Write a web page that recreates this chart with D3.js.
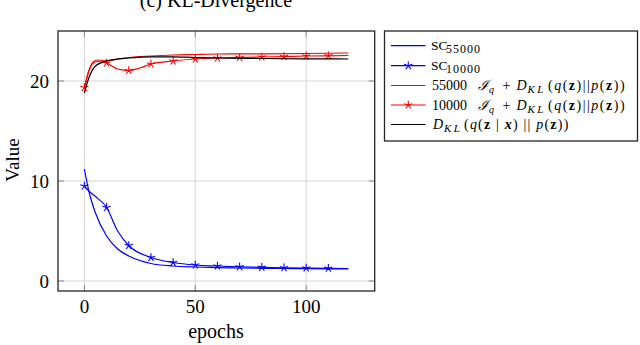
<!DOCTYPE html>
<html>
<head>
<meta charset="utf-8">
<script src="https://cdn.jsdelivr.net/npm/d3@7"></script>
<style>
  body { margin: 0; background: #fff; }
  svg { font-family: "Liberation Serif", "DejaVu Serif", serif; }
</style>
</head>
<body>
<svg id="chart"></svg>
<script>
// values
const xTicks = [0, 50, 100];
const yTicks = [0, 10, 20];

const sc55000Epochs = [0, 2, 5, 10, 15, 20, 30, 40, 50, 60, 70, 80, 90, 100, 110, 119];
const sc55000Values = [11.2, 9.0, 6.8, 4.5, 3.2, 2.5, 1.75, 1.5, 1.4, 1.33, 1.3, 1.27, 1.25, 1.23, 1.22, 1.2];

const sc10000Epochs = [0, 2, 5, 10, 15, 20, 30, 40, 50, 60, 70, 80, 90, 100, 110, 119];
const sc10000Values = [9.5, 9.0, 8.45, 7.35, 5.0, 3.55, 2.35, 1.85, 1.6, 1.5, 1.42, 1.37, 1.32, 1.3, 1.27, 1.25];

const kl55000Epochs = [0, 2, 4, 6, 10, 15, 20, 30, 40, 50, 60, 80, 100, 119];
const kl55000Values = [19.3, 21.0, 21.9, 22.1, 22.0, 22.2, 22.35, 22.5, 22.6, 22.65, 22.7, 22.72, 22.75, 22.8];

const kl10000Epochs = [0, 2, 4, 6, 10, 15, 20, 25, 30, 40, 50, 60, 70, 80, 90, 100, 110, 119];
const kl10000Values = [19.35, 21.0, 21.8, 21.95, 21.8, 21.2, 21.05, 21.3, 21.7, 22.0, 22.2, 22.3, 22.35, 22.4, 22.45, 22.5, 22.52, 22.55];

const klPostEpochs = [0, 2, 5, 10, 20, 30, 40, 50, 60, 80, 100, 119];
const klPostValues = [18.8, 20.3, 21.5, 22.0, 22.3, 22.42, 22.42, 22.35, 22.3, 22.25, 22.22, 22.2];

const markEpochs = [0, 10, 20, 30, 40, 50, 60, 70, 80, 90, 100, 110];

const width = 640, height = 345;
const svg = d3.select("#chart").attr("width", width).attr("height", height);

const plot = { left: 58, right: 374.7, top: 31, bottom: 291 };
const x = d3.scaleLinear().domain([-11.9, 130.9]).range([plot.left, plot.right]);
const y = d3.scaleLinear().domain([-1.0, 25.0]).range([plot.bottom, plot.top]);

const zip = (xs, ys) => xs.map((e, i) => ({ e: e, v: ys[i] }));

const series = [
  { name: "sc55000", data: zip(sc55000Epochs, sc55000Values), color: "#0000ff", mark: false },
  { name: "sc10000", data: zip(sc10000Epochs, sc10000Values), color: "#0000ff", mark: true },
  { name: "kl55000", data: zip(kl55000Epochs, kl55000Values), color: "#ff0000", mark: false },
  { name: "kl10000", data: zip(kl10000Epochs, kl10000Values), color: "#ff0000", mark: true },
  { name: "klPost", data: zip(klPostEpochs, klPostValues), color: "#000000", mark: false }
];

// title (top half is cut off in the reference too)
svg.append("text")
  .attr("x", 216).attr("y", 7)
  .attr("text-anchor", "middle")
  .style("font-size", "20px")
  .text("(c) KL-Divergence");

// grid
const grid = svg.append("g");
grid.selectAll("line.gx").data(xTicks).join("line")
  .attr("x1", d => x(d)).attr("x2", d => x(d))
  .attr("y1", plot.top).attr("y2", plot.bottom)
  .attr("stroke", "#d6d6d6").attr("stroke-width", 1);
grid.selectAll("line.gy").data(yTicks).join("line")
  .attr("y1", d => y(d)).attr("y2", d => y(d))
  .attr("x1", plot.left).attr("x2", plot.right)
  .attr("stroke", "#d6d6d6").attr("stroke-width", 1);

// inner tick marks on all four sides
const tickLen = 6;
const ticks = svg.append("g").attr("stroke", "#8a8a8a").attr("stroke-width", 1);
xTicks.forEach(t => {
  ticks.append("line").attr("x1", x(t)).attr("x2", x(t)).attr("y1", plot.bottom).attr("y2", plot.bottom - tickLen);
  ticks.append("line").attr("x1", x(t)).attr("x2", x(t)).attr("y1", plot.top).attr("y2", plot.top + tickLen);
});
yTicks.forEach(t => {
  ticks.append("line").attr("y1", y(t)).attr("y2", y(t)).attr("x1", plot.left).attr("x2", plot.left + tickLen);
  ticks.append("line").attr("y1", y(t)).attr("y2", y(t)).attr("x1", plot.right).attr("x2", plot.right - tickLen);
});

svg.append("clipPath").attr("id", "clip")
  .append("rect")
  .attr("x", plot.left).attr("y", plot.top)
  .attr("width", plot.right - plot.left).attr("height", plot.bottom - plot.top);

const line = d3.line()
  .x(d => x(d.e))
  .y(d => y(d.v))
  .curve(d3.curveMonotoneX);

const lines = svg.append("g").attr("clip-path", "url(#clip)");

function starPath(r) {
  let p = "";
  for (let k = 0; k < 5; k++) {
    const a = -Math.PI / 2 + k * 2 * Math.PI / 5;
    p += "M0,0L" + (r * Math.cos(a)).toFixed(2) + "," + (r * Math.sin(a)).toFixed(2);
  }
  return p;
}

series.forEach(s => {
  lines.append("path")
    .datum(s.data)
    .attr("fill", "none")
    .attr("stroke", s.color)
    .attr("stroke-width", 1.2)
    .attr("d", line);
  if (s.mark) {
    const pts = s.data.filter(d => markEpochs.includes(d.e));
    lines.selectAll("path.mark-" + s.name).data(pts).join("path")
      .attr("class", "mark-" + s.name)
      .attr("transform", d => `translate(${x(d.e)},${y(d.v)})`)
      .attr("d", starPath(4.3))
      .attr("fill", "none")
      .attr("stroke", s.color)
      .attr("stroke-width", 1.1);
  }
});

// axis box
svg.append("rect")
  .attr("x", plot.left).attr("y", plot.top)
  .attr("width", plot.right - plot.left).attr("height", plot.bottom - plot.top)
  .attr("fill", "none").attr("stroke", "#262626").attr("stroke-width", 1.3);

// tick labels
svg.selectAll("text.xt").data(xTicks).join("text")
  .attr("class", "xt")
  .attr("x", d => x(d)).attr("y", 313)
  .attr("text-anchor", "middle")
  .style("font-size", "19px")
  .text(d => d);
svg.selectAll("text.yt").data(yTicks).join("text")
  .attr("class", "yt")
  .attr("x", 49).attr("y", d => y(d) + 6.5)
  .attr("text-anchor", "end")
  .style("font-size", "19px")
  .text(d => d);

// axis labels
svg.append("text")
  .attr("x", 216).attr("y", 338)
  .attr("text-anchor", "middle")
  .style("font-size", "20px")
  .text("epochs");
svg.append("text")
  .attr("transform", "translate(19,160) rotate(-90)")
  .attr("text-anchor", "middle")
  .style("font-size", "19px")
  .text("Value");

// legend
const legend = svg.append("g");
legend.append("rect")
  .attr("x", 384.5).attr("y", 31)
  .attr("width", 253).attr("height", 110)
  .attr("fill", "#fff").attr("stroke", "#262626").attr("stroke-width", 1.3);

const rowY = [45.7, 65.7, 85.5, 105, 124.5];

series.forEach((s, i) => {
  const g = legend.append("g").attr("transform", `translate(0,${rowY[i]})`);
  g.append("line")
    .attr("x1", 391).attr("x2", 425.5).attr("y1", 0).attr("y2", 0)
    .attr("stroke", s.color).attr("stroke-width", 1.2);
  if (s.mark) {
    g.append("path")
      .attr("transform", "translate(408.3,0)")
      .attr("d", starPath(4.3))
      .attr("fill", "none").attr("stroke", s.color).attr("stroke-width", 1.1);
  }
});

// one piece of legend text at a fixed x
function chunk(i, px, str, opt) {
  opt = opt || {};
  const t = legend.append("text")
    .attr("x", px)
    .attr("y", rowY[i] + 4.5 + (opt.sub ? 3 : 0))
    .style("font-size", (opt.size || 14) + "px")
    .text(str);
  if (opt.italic) t.style("font-style", "italic");
  if (opt.ls) t.style("letter-spacing", opt.ls + "px");
  return t;
}

// parts of "(q(z)||p(z))" with bold z
function argText(i, px, parts, ls) {
  const t = legend.append("text")
    .attr("x", px).attr("y", rowY[i] + 4.5)
    .style("font-size", "14px")
    .style("letter-spacing", ls + "px");
  parts.forEach(p => {
    const sp = t.append("tspan").text(p[0]);
    if (p[1] === "i") sp.style("font-style", "italic");
    if (p[1] === "b") sp.style("font-weight", "bold");
    if (p[1] === "bi") sp.style("font-weight", "bold").style("font-style", "italic");
  });
}

[0, 1].forEach(i => {
  chunk(i, 431, "SC", { size: 13.5 });
  chunk(i, 446, i === 0 ? "55000" : "10000", { size: 12, sub: true, ls: 1 });
});

[2, 3].forEach(i => {
  chunk(i, 432, i === 2 ? "55000" : "10000", { size: 14 });
  chunk(i, 478, "\u2110", { size: 14, italic: true });
  chunk(i, 489, "q", { size: 10, italic: true, sub: true });
  chunk(i, 502.5, "+", { size: 14 });
  chunk(i, 516.5, "D", { size: 14, italic: true });
  chunk(i, 527.5, "KL", { size: 11, italic: true, sub: true, ls: 2.5 });
  argText(i, 548, [["(", ""], ["q", "i"], ["(", ""], ["z", "b"], [")||", ""], ["p", "i"], ["(", ""], ["z", "b"], ["))", ""]], 1.5);
});

chunk(4, 433, "D", { size: 14, italic: true });
chunk(4, 444, "KL", { size: 11, italic: true, sub: true, ls: 2.5 });
argText(4, 464, [["(", ""], ["q", "i"], ["(", ""], ["z", "b"], [" | ", ""], ["x", "bi"], [") || ", ""], ["p", "i"], ["(", ""], ["z", "b"], ["))", ""]], 1.2);
</script>
</body>
</html>
